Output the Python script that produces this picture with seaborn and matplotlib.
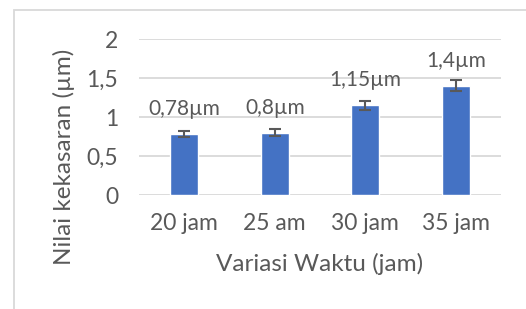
import matplotlib
matplotlib.use("Agg")
import matplotlib.pyplot as plt
import seaborn as sns
import pandas as pd
from matplotlib.patches import Rectangle

categories = ["20 jam", "25 am", "30 jam", "35 jam"]
values = [0.78, 0.80, 1.15, 1.40]
errors = [0.04, 0.045, 0.06, 0.07]
labels = ["0,78µm", "0,8µm", "1,15µm", "1,4µm"]
yticks = [0, 0.5, 1, 1.5, 2]
ytick_labels = ["0", "0,5", "1", "1,5", "2"]

sns.set_theme(style="white")
plt.rcParams['font.family'] = ['Lato', 'DejaVu Sans']

TEXT = "#595959"
GRID = "#D9D9D9"
BAR = "#4472C4"

W, H = 526, 309
fig = plt.figure(figsize=(W / 100, H / 100), dpi=100)
fig.patch.set_facecolor("white")
ax = fig.add_axes([139 / W, 1 - 195 / H, (501 - 139) / W, (195 - 39) / H])

df = pd.DataFrame({"cat": categories, "val": values})
sns.barplot(data=df, x="cat", y="val", color=BAR, saturation=1, width=0.31, ax=ax)
ax.errorbar(x=range(len(categories)), y=values, yerr=errors, fmt="none",
            ecolor=TEXT, elinewidth=1.5, capsize=4.5, capthick=1.5, zorder=5)

ax.set_ylim(0, 2)
ax.set_xlim(-0.5, len(categories) - 0.5)
ax.set_yticks(yticks)
ax.set_yticklabels(ytick_labels)
ax.yaxis.grid(True, color=GRID, linewidth=1.3)
ax.set_axisbelow(True)
for s in ax.spines.values():
    s.set_visible(False)
ax.tick_params(axis="both", length=0, labelsize=16.5, colors=TEXT)
ax.tick_params(axis="x", pad=13)
ax.tick_params(axis="y", pad=15)
ax.set_xlabel("")
ax.set_ylabel("")

for i, (v, lab) in enumerate(zip(values, labels)):
    ax.annotate(lab, (i, v), xytext=(0, 18), textcoords="offset points",
                ha="center", va="center", fontsize=15, color=TEXT)

fig.text(320 / W, 1 - 264 / H, "Variasi Waktu (jam)", ha="center", va="center",
         fontsize=17.5, color=TEXT)
fig.text(64 / W, 1 - 157 / H, "Nilai kekasaran (µm)", ha="center", va="center",
         rotation=90, fontsize=17.5, color=TEXT)

fig.patches.append(Rectangle((13.5 / W, -0.1), 1.2, 1 - 10.5 / H + 0.1,
                             transform=fig.transFigure, fill=False,
                             edgecolor=GRID, linewidth=1.3))

fig.savefig("out.png", dpi=100)
